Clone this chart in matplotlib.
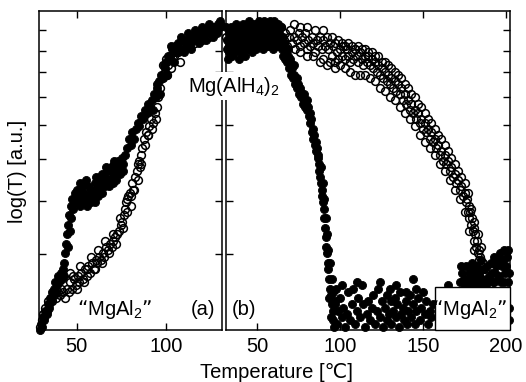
import numpy as np
import matplotlib
matplotlib.use('Agg')
import matplotlib.pyplot as plt
from matplotlib.patches import Rectangle

plt.rcParams['font.family'] = ['Liberation Sans', 'DejaVu Sans']
plt.rcParams['mathtext.default'] = 'regular'
plt.rcParams['font.size'] = 14.5

# panel (a): temperature [C], log(T) in a.u. (0 = bottom, 1 = top of frame)
a_filled = np.array([
    [29.5, 0.00], [30.2, 0.02], [30.8, 0.01], [31.5, 0.04], [32.0, 0.03], [32.6, 0.06],
    [33.2, 0.05], [33.8, 0.08], [34.3, 0.07], [35.0, 0.10], [35.6, 0.09], [36.2, 0.12],
    [36.8, 0.11], [37.5, 0.13], [38.0, 0.15], [38.6, 0.12], [39.2, 0.14], [39.8, 0.17],
    [40.4, 0.15], [41.0, 0.18], [41.6, 0.16], [42.2, 0.19], [42.8, 0.17], [43.2, 0.21],
    [43.6, 0.24], [44.0, 0.27], [44.5, 0.30], [45.0, 0.26], [45.3, 0.33], [45.8, 0.36],
    [46.2, 0.31], [46.6, 0.39], [47.0, 0.35], [47.5, 0.41], [48.0, 0.38], [48.8, 0.43],
    [49.5, 0.40], [50.2, 0.44], [51.0, 0.42], [51.8, 0.46], [52.5, 0.41], [53.2, 0.45],
    [54.0, 0.43], [55.0, 0.47], [55.8, 0.42], [56.5, 0.45], [57.3, 0.41], [58.0, 0.44],
    [59.0, 0.42], [60.0, 0.46], [61.0, 0.44], [62.0, 0.47], [63.0, 0.45], [64.0, 0.49],
    [65.0, 0.46], [66.0, 0.48], [67.0, 0.50], [68.0, 0.47], [69.0, 0.51], [70.0, 0.49],
    [71.0, 0.52], [72.0, 0.50], [73.0, 0.53], [74.0, 0.51], [75.0, 0.54], [76.0, 0.52],
    [77.0, 0.55], [78.0, 0.57], [79.0, 0.60], [80.0, 0.58], [81.0, 0.62], [82.0, 0.60],
    [83.0, 0.63], [84.0, 0.65], [85.0, 0.64], [86.0, 0.67], [87.0, 0.66], [88.0, 0.69],
    [89.0, 0.68], [90.0, 0.71], [91.0, 0.70], [92.0, 0.72], [93.0, 0.74], [94.0, 0.73],
    [95.0, 0.76], [96.0, 0.78], [97.0, 0.80], [98.0, 0.79], [99.0, 0.82], [100.0, 0.84],
    [101.0, 0.86], [102.0, 0.85], [103.0, 0.88], [104.0, 0.87], [105.0, 0.89], [106.5, 0.90],
    [108.0, 0.88], [109.5, 0.91], [111.0, 0.89], [112.5, 0.91], [114.0, 0.90], [115.5, 0.92],
    [117.0, 0.91], [118.5, 0.93], [120.0, 0.92], [121.5, 0.93], [123.0, 0.94], [124.5, 0.93],
    [126.0, 0.95], [127.5, 0.94], [129.0, 0.96], [130.0, 0.95],
    [52.0, 0.39], [54.0, 0.40], [56.0, 0.39], [58.0, 0.40], [60.0, 0.40], [62.0, 0.42],
    [64.0, 0.43], [66.0, 0.45], [68.0, 0.45], [70.0, 0.46], [72.0, 0.47], [74.0, 0.49],
    [76.0, 0.50], [61.0, 0.48], [66.5, 0.51], [71.0, 0.53], [92.5, 0.69], [94.5, 0.77],
    [96.5, 0.74], [98.5, 0.83], [100.5, 0.80], [102.5, 0.89], [104.5, 0.84], [106.0, 0.87],
    [108.0, 0.92], [110.0, 0.87], [112.0, 0.93], [114.0, 0.88], [116.0, 0.94], [118.0, 0.90],
    [120.0, 0.95], [122.0, 0.91], [124.0, 0.96], [126.0, 0.92], [128.0, 0.93], [130.0, 0.97],
])

a_open = np.array([
    [29.8, 0.01], [30.5, 0.03], [31.2, 0.05], [31.8, 0.04], [32.5, 0.07], [33.2, 0.06],
    [34.0, 0.09], [34.8, 0.08], [35.6, 0.10], [36.5, 0.09], [37.5, 0.11], [38.5, 0.10],
    [39.5, 0.12], [40.5, 0.11], [41.5, 0.13], [42.5, 0.12], [43.5, 0.10], [44.5, 0.13],
    [45.5, 0.12], [46.5, 0.15], [47.5, 0.13], [48.5, 0.16], [49.5, 0.14], [50.5, 0.17],
    [51.5, 0.15], [52.5, 0.18], [53.5, 0.16], [54.5, 0.19], [55.5, 0.17], [56.5, 0.20],
    [57.5, 0.18], [58.5, 0.21], [59.5, 0.19], [60.5, 0.22], [61.5, 0.21], [62.5, 0.23],
    [63.5, 0.22], [64.5, 0.24], [65.5, 0.23], [66.5, 0.26], [67.5, 0.25], [68.5, 0.27],
    [69.5, 0.26], [70.5, 0.28], [71.5, 0.29], [72.5, 0.30], [73.5, 0.31], [74.5, 0.33],
    [75.5, 0.34], [76.5, 0.36], [77.0, 0.38], [77.5, 0.40], [78.0, 0.37], [78.5, 0.42],
    [79.5, 0.43], [80.5, 0.42], [81.0, 0.46], [81.5, 0.44], [82.5, 0.48], [83.5, 0.50],
    [84.0, 0.47], [84.5, 0.53], [85.5, 0.51], [86.0, 0.55], [86.5, 0.57], [87.5, 0.60],
    [88.5, 0.62], [89.5, 0.61], [90.5, 0.64], [91.5, 0.66], [92.5, 0.65], [93.5, 0.68],
    [94.5, 0.70], [95.5, 0.73], [96.5, 0.76], [97.5, 0.79], [98.0, 0.83], [99.0, 0.81],
    [100.0, 0.85], [101.0, 0.83], [102.0, 0.86], [103.5, 0.85], [105.0, 0.88], [106.5, 0.87],
    [108.0, 0.90], [110.0, 0.89], [112.0, 0.91], [114.0, 0.92], [116.0, 0.90], [118.0, 0.92],
    [120.0, 0.91], [122.0, 0.93], [124.0, 0.92], [126.0, 0.94], [128.0, 0.95], [130.0, 0.96],
    [46.0, 0.18], [48.0, 0.17], [50.0, 0.13], [52.0, 0.20], [54.0, 0.15], [56.0, 0.19],
    [58.0, 0.23], [60.0, 0.19], [62.0, 0.25], [64.0, 0.21], [66.0, 0.28], [68.0, 0.24],
    [70.0, 0.30], [72.0, 0.27], [74.0, 0.35], [76.0, 0.32], [78.0, 0.41], [80.0, 0.39],
    [82.0, 0.44], [84.0, 0.52], [86.0, 0.52], [88.0, 0.58], [90.0, 0.61], [92.0, 0.63],
    [94.0, 0.66], [100.5, 0.80], [102.5, 0.82], [104.0, 0.86], [107.5, 0.84],
])

# panel (b)
b_filled = np.array([
    [31.5, 0.95], [31.8, 0.88], [32.2, 0.91], [32.6, 0.85], [33.0, 0.93], [33.4, 0.87],
    [33.8, 0.90], [34.3, 0.95], [34.7, 0.86], [35.2, 0.92], [35.6, 0.89], [36.0, 0.94],
    [36.5, 0.87], [37.0, 0.91], [37.4, 0.96], [37.9, 0.88], [38.4, 0.93], [38.9, 0.85],
    [39.4, 0.90], [39.9, 0.94], [40.4, 0.87], [40.9, 0.92], [41.4, 0.96], [41.9, 0.89],
    [42.4, 0.93], [42.9, 0.86], [43.4, 0.91], [43.9, 0.95], [44.4, 0.88], [44.9, 0.92],
    [45.4, 0.97], [45.9, 0.89], [46.4, 0.94], [46.9, 0.87], [47.4, 0.91], [47.9, 0.96],
    [48.4, 0.90], [48.9, 0.93], [49.4, 0.88], [49.9, 0.95], [50.4, 0.91], [50.9, 0.97],
    [51.4, 0.89], [51.9, 0.94], [52.4, 0.92], [52.9, 0.96], [53.4, 0.88], [53.9, 0.93],
    [54.4, 0.97], [54.9, 0.90], [55.4, 0.94], [55.9, 0.91], [56.4, 0.96], [56.9, 0.89],
    [57.4, 0.93], [57.9, 0.97], [58.4, 0.91], [58.9, 0.95], [59.4, 0.88], [59.9, 0.93],
    [60.4, 0.97], [60.9, 0.90], [61.4, 0.94], [61.9, 0.92], [62.4, 0.96], [62.9, 0.89],
    [63.4, 0.93], [63.9, 0.91], [64.4, 0.95], [64.9, 0.88], [65.4, 0.92], [65.9, 0.86],
    [66.4, 0.90], [66.9, 0.85], [67.4, 0.87], [68.0, 0.84], [68.6, 0.86], [69.2, 0.82],
    [69.8, 0.84], [70.4, 0.80], [71.0, 0.82], [71.6, 0.79], [72.2, 0.80], [72.8, 0.77],
    [73.4, 0.78], [74.0, 0.76], [74.6, 0.77], [75.2, 0.74], [75.8, 0.75], [76.4, 0.73],
    [77.0, 0.74], [77.6, 0.71], [78.2, 0.72], [78.8, 0.70], [79.4, 0.71], [80.0, 0.69],
    [80.6, 0.70], [81.2, 0.67], [81.8, 0.65], [82.4, 0.66], [83.0, 0.62], [83.6, 0.60],
    [84.2, 0.61], [84.8, 0.58], [85.4, 0.56], [86.0, 0.57], [86.6, 0.54], [87.2, 0.52],
    [87.6, 0.50], [88.2, 0.48], [88.6, 0.46], [89.0, 0.44], [89.4, 0.42], [89.8, 0.40],
    [90.2, 0.38], [90.6, 0.35], [91.0, 0.32], [91.3, 0.29], [91.6, 0.26], [92.0, 0.24],
    [92.5, 0.21], [93.0, 0.19], [93.5, 0.16], [94.0, 0.13], [94.5, 0.11], [95.0, 0.08],
    [95.5, 0.06], [96.0, 0.03], [96.5, 0.01],
    [68.5, 0.88], [70.0, 0.85], [72.0, 0.83], [74.0, 0.79], [76.0, 0.76], [78.0, 0.74],
    [80.0, 0.72], [82.0, 0.68], [84.0, 0.63], [85.5, 0.59], [87.0, 0.55], [88.5, 0.51],
    [89.5, 0.46], [90.5, 0.41], [91.5, 0.35], [92.2, 0.30], [93.0, 0.25], [94.0, 0.21],
    [95.0, 0.16], [96.0, 0.12], [97.0, 0.09],
    [93.5, 0.10], [94.5, 0.04], [97.0, 0.08], [98.0, 0.02], [99.0, 0.06], [100.0, 0.10],
    [101.0, 0.04], [102.0, 0.07], [103.0, 0.01], [104.0, 0.05], [105.0, 0.12], [106.0, 0.03],
    [107.0, 0.08], [108.0, 0.13], [109.0, 0.02], [110.0, 0.06], [111.0, 0.10], [112.0, 0.04],
    [113.0, 0.14], [114.0, 0.08], [115.0, 0.01], [116.0, 0.05], [117.0, 0.09], [118.0, 0.03],
    [119.0, 0.07], [120.0, 0.11], [121.0, 0.02], [122.0, 0.06], [123.0, 0.13], [124.0, 0.04],
    [125.0, 0.09], [126.0, 0.01], [127.0, 0.07], [128.0, 0.11], [128.5, 0.03], [129.5, 0.05],
    [130.5, 0.09], [131.0, 0.02], [132.0, 0.06], [133.0, 0.10], [133.5, 0.04], [134.5, 0.08],
    [135.5, 0.01], [136.0, 0.12], [137.0, 0.05], [138.0, 0.07], [138.5, 0.03], [139.5, 0.09],
    [140.5, 0.02], [141.0, 0.06], [142.0, 0.11], [143.0, 0.04], [144.0, 0.08], [145.0, 0.02],
    [146.0, 0.06], [147.0, 0.10], [148.0, 0.03], [149.0, 0.07], [150.0, 0.12], [151.0, 0.05],
    [152.0, 0.09], [153.0, 0.02], [154.0, 0.06], [155.0, 0.04], [156.0, 0.08], [165.0, 0.14],
    [97.5, 0.13], [101.0, 0.14], [110.0, 0.15], [124.0, 0.15], [130.0, 0.13], [134.0, 0.14],
    [140.0, 0.12], [144.0, 0.16], [146.0, 0.13],
    [172.0, 0.15], [173.5, 0.18], [175.0, 0.14], [176.0, 0.20], [177.5, 0.16], [179.0, 0.14],
    [180.0, 0.19], [181.5, 0.15], [183.0, 0.17], [184.0, 0.14], [185.5, 0.16], [187.0, 0.19],
    [188.0, 0.14], [189.5, 0.17], [191.0, 0.21], [192.0, 0.15], [193.5, 0.18], [195.0, 0.22],
    [196.0, 0.16], [197.5, 0.20], [198.5, 0.25], [199.5, 0.18], [200.5, 0.23], [201.0, 0.15],
    [201.5, 0.03], [201.5, 0.07],
    [173.0, 0.20], [174.5, 0.16], [176.5, 0.15], [178.0, 0.18], [179.5, 0.21], [181.0, 0.17],
    [182.5, 0.20], [184.0, 0.18], [185.0, 0.22], [186.5, 0.15], [188.5, 0.20], [190.0, 0.16],
    [191.5, 0.18], [193.0, 0.15], [194.0, 0.20], [195.5, 0.17], [197.0, 0.15], [198.0, 0.22],
    [199.0, 0.15], [200.0, 0.20], [201.0, 0.25], [201.5, 0.18], [196.5, 0.24], [193.0, 0.23],
])

b_open = np.array([
    [31.5, 0.92], [33.0, 0.89], [34.5, 0.94], [36.0, 0.91], [37.5, 0.88], [39.0, 0.93],
    [40.5, 0.90], [42.0, 0.95], [43.5, 0.89], [45.0, 0.92], [46.5, 0.94], [48.0, 0.90],
    [49.5, 0.93], [51.0, 0.96], [52.5, 0.91], [54.0, 0.94], [55.5, 0.89], [57.0, 0.93],
    [58.5, 0.96], [60.0, 0.91], [61.5, 0.94], [63.0, 0.92], [64.5, 0.95], [66.0, 0.91],
    [67.0, 0.93], [68.0, 0.89], [69.0, 0.92], [70.0, 0.94], [71.0, 0.90], [72.0, 0.92],
    [73.0, 0.88], [74.0, 0.91], [75.0, 0.93], [76.0, 0.89], [77.0, 0.92], [78.0, 0.90],
    [79.0, 0.93], [80.0, 0.88], [81.0, 0.91], [82.0, 0.89], [83.0, 0.92], [84.0, 0.90],
    [85.0, 0.87], [86.0, 0.91], [87.0, 0.89], [88.0, 0.92], [89.0, 0.88], [90.0, 0.91],
    [91.0, 0.89], [92.0, 0.92], [93.0, 0.88], [94.0, 0.90], [95.0, 0.86], [96.0, 0.89],
    [97.0, 0.84], [98.0, 0.87], [99.0, 0.85], [100.0, 0.88], [101.0, 0.86], [102.0, 0.89],
    [103.0, 0.85], [104.0, 0.88], [105.0, 0.86], [106.0, 0.84], [107.0, 0.87], [108.0, 0.85],
    [109.0, 0.88], [110.0, 0.86], [111.0, 0.84], [112.0, 0.87], [113.0, 0.85], [114.0, 0.83],
    [115.0, 0.86], [116.0, 0.84], [117.0, 0.86], [118.0, 0.83], [119.0, 0.85], [120.0, 0.82],
    [121.0, 0.84], [122.0, 0.81], [123.0, 0.83], [124.0, 0.80], [125.0, 0.82], [126.0, 0.79],
    [127.0, 0.81], [128.0, 0.78], [129.0, 0.80], [130.0, 0.77], [131.0, 0.79], [132.0, 0.76],
    [133.0, 0.78], [134.0, 0.75], [135.0, 0.77], [136.0, 0.74], [137.0, 0.76], [138.0, 0.72],
    [139.0, 0.74], [140.0, 0.71], [141.0, 0.72], [142.0, 0.69], [143.0, 0.71], [144.0, 0.68],
    [145.0, 0.69], [146.0, 0.66], [147.0, 0.68], [148.0, 0.65], [149.0, 0.66], [150.0, 0.63],
    [151.0, 0.65], [152.0, 0.62], [153.0, 0.63], [154.0, 0.60], [155.0, 0.62], [156.0, 0.59],
    [157.0, 0.60], [158.0, 0.57], [159.0, 0.58], [160.0, 0.55], [161.0, 0.56], [162.0, 0.53],
    [163.0, 0.55], [164.0, 0.52], [165.0, 0.53], [166.0, 0.50], [167.0, 0.51], [168.0, 0.48],
    [169.0, 0.49], [170.0, 0.46], [171.0, 0.47], [172.0, 0.44], [173.0, 0.45], [174.0, 0.42],
    [175.0, 0.43], [176.0, 0.40], [176.5, 0.41], [177.0, 0.37], [177.5, 0.39], [178.0, 0.35],
    [178.5, 0.37], [179.0, 0.33], [179.5, 0.35], [180.0, 0.31], [180.5, 0.32], [181.0, 0.28],
    [181.5, 0.30], [182.0, 0.26], [182.5, 0.28], [183.0, 0.24], [183.5, 0.25], [184.0, 0.22],
    [184.5, 0.23], [185.0, 0.20], [186.0, 0.21], [187.0, 0.19], [188.0, 0.18],
    [97.0, 0.90], [99.0, 0.91], [101.0, 0.90], [103.0, 0.89], [105.0, 0.90], [107.0, 0.89],
    [109.0, 0.88], [111.0, 0.89], [113.0, 0.88], [115.0, 0.88], [117.0, 0.87], [119.0, 0.87],
    [121.0, 0.86], [123.0, 0.86], [125.0, 0.84], [127.0, 0.84], [129.0, 0.83], [131.0, 0.82],
    [133.0, 0.81], [135.0, 0.80], [137.0, 0.79], [139.0, 0.77], [141.0, 0.76], [143.0, 0.74],
    [145.0, 0.73], [147.0, 0.71], [149.0, 0.70], [151.0, 0.68], [153.0, 0.66], [155.0, 0.65],
    [157.0, 0.63], [159.0, 0.61], [161.0, 0.60], [163.0, 0.58], [165.0, 0.56], [167.0, 0.54],
    [169.0, 0.52], [171.0, 0.50], [173.0, 0.48], [175.0, 0.46], [177.0, 0.43], [179.0, 0.38],
    [181.0, 0.34], [183.0, 0.30], [185.0, 0.26],
    [97.0, 0.82], [100.0, 0.83], [103.0, 0.82], [106.0, 0.81], [109.0, 0.80], [112.0, 0.80],
    [115.0, 0.80], [118.0, 0.79], [121.0, 0.78], [124.0, 0.76], [127.0, 0.75], [130.0, 0.73],
    [133.0, 0.72], [136.0, 0.70], [139.0, 0.68], [142.0, 0.66], [145.0, 0.64], [148.0, 0.61],
    [151.0, 0.59], [154.0, 0.57], [157.0, 0.55], [160.0, 0.52], [163.0, 0.50], [166.0, 0.47],
    [169.0, 0.44], [172.0, 0.41], [175.0, 0.37], [178.0, 0.31], [181.0, 0.25], [184.0, 0.20],
    [88.0, 0.84], [90.0, 0.85], [92.0, 0.83], [94.0, 0.84], [80.0, 0.86], [84.0, 0.86],
    [76.0, 0.87], [72.0, 0.96], [76.0, 0.95], [80.0, 0.95], [85.0, 0.94], [90.0, 0.94],
    [95.0, 0.92],
])

a_xticks = [50, 100]
b_xticks = [50, 100, 150, 200]
y_ticks = [0.238, 0.404, 0.536, 0.643, 0.730, 0.809, 0.875, 0.940]

W, H = 526, 382
fig = plt.figure(figsize=(W / 100, H / 100), dpi=100)
ax_a = fig.add_axes([39 / W, 52 / H, 183 / W, 319 / H])
ax_b = fig.add_axes([226 / W, 52 / H, 284 / W, 319 / H])


def style(ax, xlim, xticks):
    ax.set_xlim(*xlim)
    ax.set_ylim(0, 1)
    ax.set_xticks(xticks)
    ax.set_yticks(y_ticks)
    ax.set_yticklabels([])
    ax.tick_params(direction='in', top=True, right=True, length=5, width=1,
                   labelsize=14.5, pad=5)
    for sp in ax.spines.values():
        sp.set_linewidth(1.1)


def draw(ax, filled, opened):
    ax.plot(filled[:, 0], filled[:, 1], 'o', ms=5.8, mfc='black', mec='black',
            mew=0.6, clip_on=False, zorder=2)
    ax.plot(opened[:, 0], opened[:, 1], 'o', ms=5.6, mfc='none', mec='black',
            mew=1.1, clip_on=False, zorder=3)


draw(ax_a, a_filled, a_open)
draw(ax_b, b_filled, b_open)
style(ax_a, (29, 131), a_xticks)
style(ax_b, (31.3, 202.4), b_xticks)

ax_a.text(0.208, 0.065, '“MgAl$_2$”', transform=ax_a.transAxes, ha='left', va='center',
          zorder=5)
ax_a.text(0.962, 0.065, '(a)', transform=ax_a.transAxes, ha='right', va='center', zorder=5)
ax_b.text(0.021, 0.065, '(b)', transform=ax_b.transAxes, ha='left', va='center', zorder=5)
ax_b.add_patch(Rectangle((0.736, 0.0), 0.264, 0.135, transform=ax_b.transAxes,
                         facecolor='white', edgecolor='black', lw=1.0, zorder=4,
                         clip_on=False))
ax_b.text(0.99, 0.065, '“MgAl$_2$”', transform=ax_b.transAxes, ha='right', va='center',
          zorder=5)

fig.text(234 / W, 1 - 86 / H, 'Mg(AlH$_4$)$_2$', ha='center', va='center',
         bbox=dict(facecolor='white', edgecolor='none', pad=1.5))

fig.text(18 / W, 1 - 171 / H, 'log(T) [a.u.]', rotation=90, ha='center', va='center')
fig.text(276 / W, 1 - 373 / H, 'Temperature [℃]', ha='center', va='center')

fig.savefig('out.png', dpi=100)
